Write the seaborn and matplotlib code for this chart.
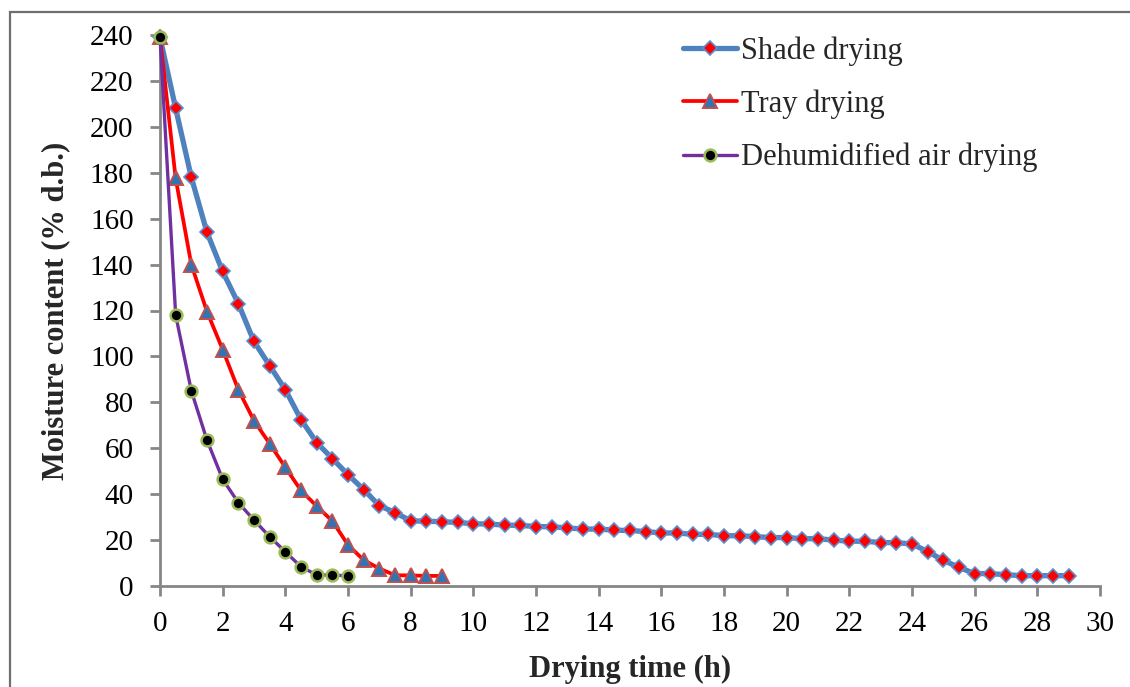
import pandas as pd
import seaborn as sns
import matplotlib.pyplot as plt
from matplotlib.patches import Rectangle

# Drying time (h) and moisture content (% d.b.)
time_shade = [0, 0.5, 1, 1.5, 2, 2.5, 3, 3.5, 4, 4.5, 5, 5.5, 6, 6.5, 7, 7.5, 8,
              8.5, 9, 9.5, 10, 10.5, 11, 11.5, 12, 12.5, 13, 13.5, 14, 14.5, 15, 15.5,
              16, 16.5, 17, 17.5, 18, 18.5, 19, 19.5, 20, 20.5, 21, 21.5, 22, 22.5,
              23, 23.5, 24, 24.5, 25, 25.5, 26, 26.5, 27, 27.5, 28, 28.5, 29]
mc_shade = [239, 208, 178, 154, 137, 123, 106.5, 96, 85.5, 72.5, 62.5, 55.5, 48.5, 42, 35, 32, 28.4,
            28.2, 28.0, 27.7, 27.1, 27.0, 26.5, 26.4, 25.9, 25.8, 25.3, 24.8, 24.8, 24.3, 24.2, 23.7,
            23.1, 23.1, 22.5, 22.5, 21.9, 21.9, 21.5, 21.1, 21.1, 20.6, 20.6, 20.0, 19.5, 19.5,
            18.9, 18.9, 18.3, 15.0, 11.2, 8.1, 5.4, 5.4, 4.9, 4.5, 4.5, 4.5, 4.5]

time_tray = [0, 0.5, 1, 1.5, 2, 2.5, 3, 3.5, 4, 4.5, 5, 5.5, 6, 6.5, 7, 7.5, 8, 8.5, 9]
mc_tray = [239, 177.5, 140, 119.5, 103, 85.5, 72, 62, 51.7, 41.6, 34.8, 28.3, 17.9, 11.3,
           7.6, 4.7, 4.6, 4.4, 4.4]

time_dehum = [0, 0.5, 1, 1.5, 2, 2.5, 3, 3.5, 4, 4.5, 5, 5.5, 6]
mc_dehum = [239, 118, 85, 63.5, 46.5, 36.3, 28.7, 21.5, 14.9, 8.4, 4.8, 4.8, 4.4]

x_ticks = list(range(0, 32, 2))
y_ticks = list(range(0, 260, 20))

sns.set_style("ticks")
plt.rcParams["font.family"] = ["Liberation Serif", "DejaVu Serif"]

fig = plt.figure(figsize=(11.3, 6.87), dpi=100)
ax = fig.add_axes([160 / 1130, 1 - 586 / 687, 940 / 1130, 551 / 687])

sns.lineplot(x=time_shade, y=mc_shade, ax=ax, label="Shade drying", color="#4F81BD",
             linewidth=3.8, marker="D", markersize=7, markerfacecolor="#FF0000",
             markeredgecolor="#5B8FD0", markeredgewidth=1.2, clip_on=False)
sns.lineplot(x=time_tray, y=mc_tray, ax=ax, label="Tray drying", color="#FF0000",
             linewidth=2.7, marker="^", markersize=9.5, markerfacecolor="#2E75B6",
             markeredgecolor="#C0504D", markeredgewidth=1.4, clip_on=False)
sns.lineplot(x=time_dehum, y=mc_dehum, ax=ax, label="Dehumidified air drying", color="#7030A0",
             linewidth=2.4, marker="o", markersize=8.5, markerfacecolor="#000000",
             markeredgecolor="#9BBB59", markeredgewidth=1.8, clip_on=False)

ax.set_xlim(0, 30)
ax.set_ylim(0, 240)
ax.set_xticks(x_ticks)
ax.set_yticks(y_ticks)
sns.despine(ax=ax)
for side in ["left", "bottom"]:
    ax.spines[side].set_color("#868686")
    ax.spines[side].set_linewidth(2)
    ax.spines[side].set_zorder(1)
ax.tick_params(axis="both", colors="#868686", width=2, length=7, labelsize=21,
               labelcolor="black")
ax.tick_params(axis="y", pad=12)
ax.tick_params(axis="x", pad=11)

ax.set_xlabel("Drying time (h)", fontsize=22, fontweight="bold", labelpad=13)
ax.set_ylabel("Moisture content (% d.b.)", fontsize=22, fontweight="bold", labelpad=14)

ax.legend(loc="upper left", bbox_to_anchor=(668 / 1130, 1 - 21 / 687),
          bbox_transform=fig.transFigure, frameon=False, fontsize=22,
          handlelength=1.75, handletextpad=0.15, labelspacing=0.78, borderpad=0)

# outer frame of the figure
fig.patches.append(Rectangle((10 / 1130, -0.1), 1.2, 1 - 12 / 687 + 0.1, transform=fig.transFigure,
                             fill=False, edgecolor="#6E6E6E", linewidth=1.6))

fig.savefig("out.png", dpi=100)
